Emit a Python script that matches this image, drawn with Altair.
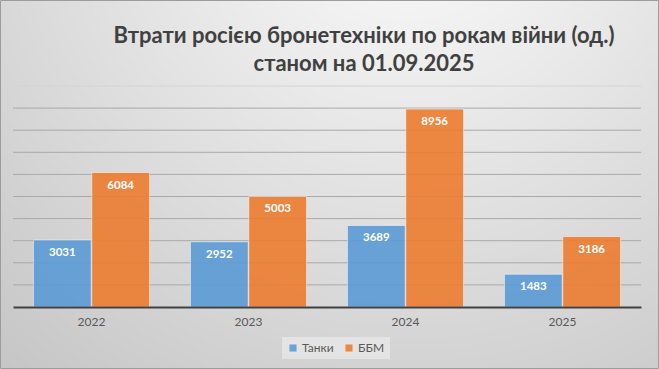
import altair as alt
import pandas as pd

years = ["2022", "2023", "2024", "2025"]
series = ["Танки", "ББМ"]
tanks = [3031, 2952, 3689, 1483]
ifv = [6084, 5003, 8956, 3186]
colors = ["#5b9bd5", "#ed7d31"]
grid_values = [1000, 2000, 3000, 4000, 5000, 6000, 7000, 8000, 9000, 10000]
title_lines = ["Втрати росією бронетехніки по рокам війни (од.)", "станом на 01.09.2025"]

rows = []
for y, t, b in zip(years, tanks, ifv):
    rows.append({"year": y, "series": series[0], "value": t})
    rows.append({"year": y, "series": series[1], "value": b})
df = pd.DataFrame(rows)

W, H = 628, 221
PL, PT, PR, PB = 13, 86, 18, 62
FONT = "Lato"

bg = alt.Chart(pd.DataFrame({"a": [0]})).mark_rect(
    clip=False,
    stroke="#9c9c9c",
    strokeWidth=1,
    color=alt.Gradient(
        gradient="radial",
        stops=[
            alt.GradientStop(color="#fdfdfd", offset=0),
            alt.GradientStop(color="#e3e3e3", offset=0.45),
            alt.GradientStop(color="#c3c3c3", offset=1),
        ],
        x1=0.62, y1=0.05, x2=0.62, y2=0.05, r1=0, r2=1.0,
    ),
).encode(
    x=alt.value(-PL + 0.5), x2=alt.value(W + PR - 0.5),
    y=alt.value(-PT + 0.5), y2=alt.value(H + PB - 0.5),
)

yscale = alt.Scale(domain=[0, 10000], nice=False)

grid = alt.Chart(pd.DataFrame({"g": grid_values})).mark_rule(strokeWidth=1).encode(
    y=alt.Y("g:Q", scale=yscale, title=None, axis=None),
    x=alt.value(0), x2=alt.value(W),
    color=alt.condition("datum.g == 10000", alt.value("#d4d4d4"), alt.value("#a9a9a9")),
)

xenc = alt.X(
    "year:N", sort=years, title=None,
    scale=alt.Scale(paddingInner=0.26, paddingOuter=0.13),
    axis=alt.Axis(
        labelAngle=0, ticks=False, labelPadding=9, labelFontSize=12,
        labelColor="#595959", labelFont=FONT, domainColor="#404040",
        domainWidth=2, grid=False, zindex=1,
    ),
)
yenc = alt.Y("value:Q", title=None, scale=yscale, axis=None)
xoff = alt.XOffset("series:N", sort=series, scale=alt.Scale(paddingInner=0.01))
color = alt.Color(
    "series:N", sort=series, title=None,
    scale=alt.Scale(domain=series, range=colors),
    legend=alt.Legend(
        orient="none", legendX=269, legendY=251, direction="horizontal",
        symbolType="square", symbolSize=50, symbolStrokeWidth=0,
        labelFont=FONT, labelFontSize=12, labelColor="#595959",
        labelOffset=3, columnPadding=9, padding=5,
        fillColor="rgba(240,240,240,0.55)", zindex=1,
    ),
)

bars = alt.Chart(df).mark_bar(
    opacity=0.9, stroke="#ffffff", strokeOpacity=0.55, strokeWidth=1
).encode(x=xenc, y=yenc, xOffset=xoff, color=color)

labels = alt.Chart(df).mark_text(
    color="white", font=FONT, fontSize=11.5, fontWeight="bold",
    baseline="middle", dy=13,
).encode(
    x=alt.X("year:N", sort=years),
    y=alt.Y("value:Q"),
    xOffset=alt.XOffset("series:N", sort=series),
    text="value:Q",
)

chart = alt.layer(bg, grid, bars, labels).properties(
    width=W, height=H,
    padding={"left": PL, "top": PT, "right": PR, "bottom": PB},
    autosize=alt.AutoSizeParams(type="none"),
    title=alt.TitleParams(
        title_lines, anchor="middle", frame="group", dx=37, offset=-76, font=FONT,
        fontSize=22, fontWeight="bold", color="#404040", lineHeight=28,
        zindex=1,
    ),
).configure_view(stroke=None)

chart.save("out.html", embed_options={"renderer": "svg", "actions": False})
